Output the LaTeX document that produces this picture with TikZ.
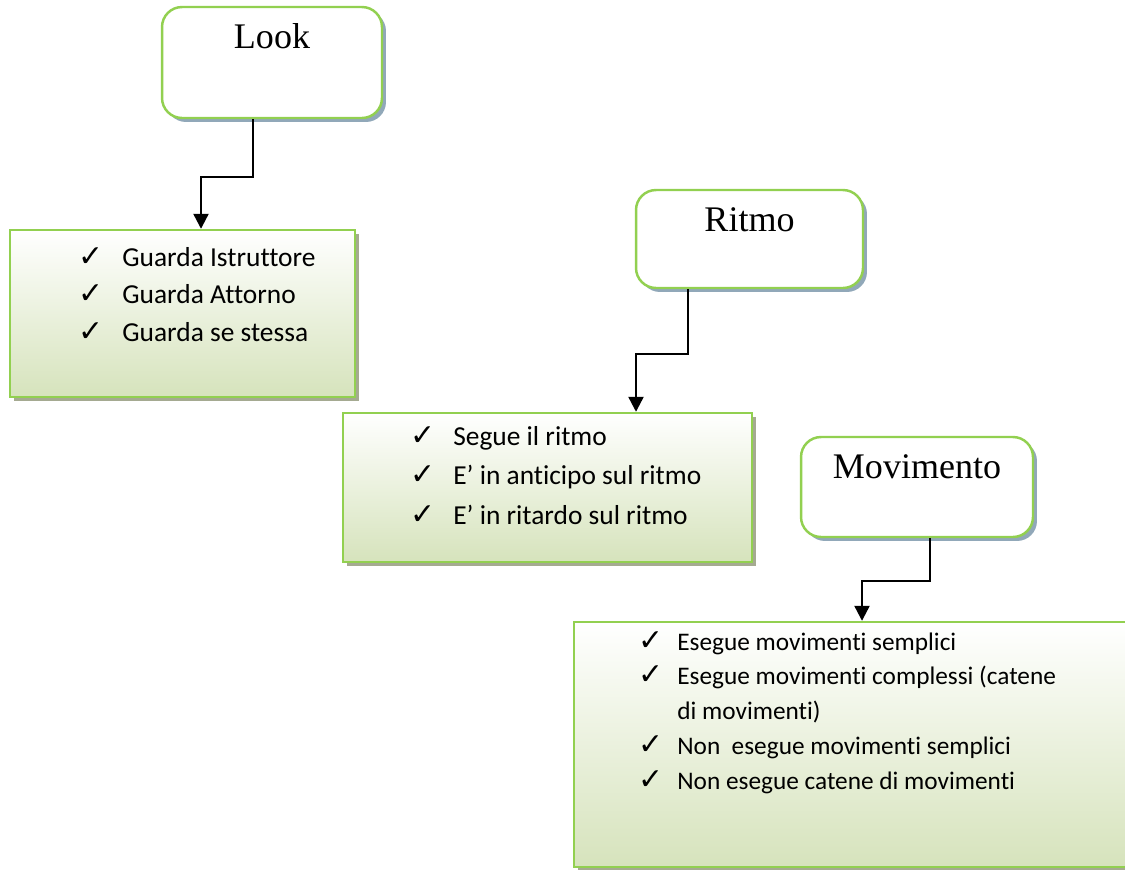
\documentclass[tikz,border=0pt]{standalone}
\usepackage{amssymb}
\usepackage{fontspec}
\setmainfont{Liberation Serif}
\newfontfamily\calibri[Ligatures=NoCommon]{Carlito}
\newfontfamily\segni{DejaVu Sans}
\usepackage{xcolor}
\usetikzlibrary{arrows.meta,shadows}

\definecolor{bordo}{RGB}{146,208,80}
\definecolor{verdino}{RGB}{214,227,188}
\definecolor{ombrablu}{RGB}{145,168,185}
\definecolor{ombraverde}{RGB}{165,170,145}

\newcommand{\spunta}{{\segni\fontsize{17}{17}\selectfont ✓}}

\begin{document}
\begin{tikzpicture}[x=0.02cm, y=-0.02cm,
  titolo/.style={draw=bordo, line width=1.4pt, rounded corners=0.4cm, fill=white,
                 drop shadow={shadow xshift=0.08cm, shadow yshift=-0.08cm, fill=ombrablu, opacity=1}},
  lista/.style={draw=bordo, line width=1.4pt, top color=white, bottom color=verdino,
                drop shadow={shadow xshift=0.08cm, shadow yshift=-0.08cm, fill=ombraverde, opacity=1}},
  testo/.style={font=\fontsize{20.5}{24}\selectfont, anchor=base},
  voci/.style={font=\calibri\fontsize{15.6}{21.5}\selectfont, anchor=base west, inner sep=0pt},
  freccia/.style={-{Triangle[width=0.3cm,length=0.3cm]}, line width=1.3pt},
]
\useasboundingbox (0,0) rectangle (1125,869);

% Riquadri dei titoli
\node[titolo, minimum width=4.4cm,  minimum height=2.22cm] (look)      at (272,62.5) {};
\node[titolo, minimum width=4.54cm, minimum height=1.96cm] (ritmo)     at (749.5,239) {};
\node[titolo, minimum width=4.64cm, minimum height=2cm]    (movimento) at (917,487) {};

\node[testo] (looktxt)      at ([yshift=-0.86cm]look.north)      {Look};
\node[testo] (ritmotxt)     at ([yshift=-0.86cm]ritmo.north)     {Ritmo};
\node[testo] (movimentotxt) at ([yshift=-0.86cm]movimento.north) {Movimento};

% Riquadri delle liste
\node[lista, minimum width=6.9cm,   minimum height=3.34cm] (guarda)  at (182.5,313.5) {};
\node[lista, minimum width=8.18cm,  minimum height=2.98cm] (segue)   at (547.5,487.5) {};
\node[lista, minimum width=11.32cm, minimum height=4.9cm]  (esegue)  at (857,744.5) {};

\node[voci] (guardatxt) at (78,266) {\begin{tabular}[t]{@{}p{0.88cm}@{}l@{}}
  \spunta & Guarda Istruttore\\
  \spunta & Guarda Attorno\\
  \spunta & Guarda se stessa
\end{tabular}};
\node[voci, font=\calibri\fontsize{15.6}{22.5}\selectfont] (seguetxt) at (410,445) {\begin{tabular}[t]{@{}p{0.86cm}@{}l@{}}
  \spunta & Segue il ritmo\\
  \spunta & E’ in anticipo sul ritmo\\
  \spunta & E’ in ritardo sul ritmo
\end{tabular}};
\node[voci, font=\calibri\fontsize{14.4}{19.8}\selectfont] (eseguetxt) at (638,650) {\begin{tabular}[t]{@{}p{0.78cm}@{}l@{}}
  \spunta & Esegue movimenti semplici\\
  \spunta & Esegue movimenti complessi (catene\\
          & di movimenti)\\
  \spunta & Non\ \ esegue movimenti semplici\\
  \spunta & Non esegue catene di movimenti
\end{tabular}};

% Frecce
\draw[freccia] (look.south -| 253,0)      |- (201,177) -- (guarda.north -| 201,0);
\draw[freccia] (ritmo.south -| 688,0)     |- (636,354) -- (segue.north -| 636,0);
\draw[freccia] (movimento.south -| 930,0) |- (862,581) -- (esegue.north -| 862,0);

\end{tikzpicture}
\end{document}
